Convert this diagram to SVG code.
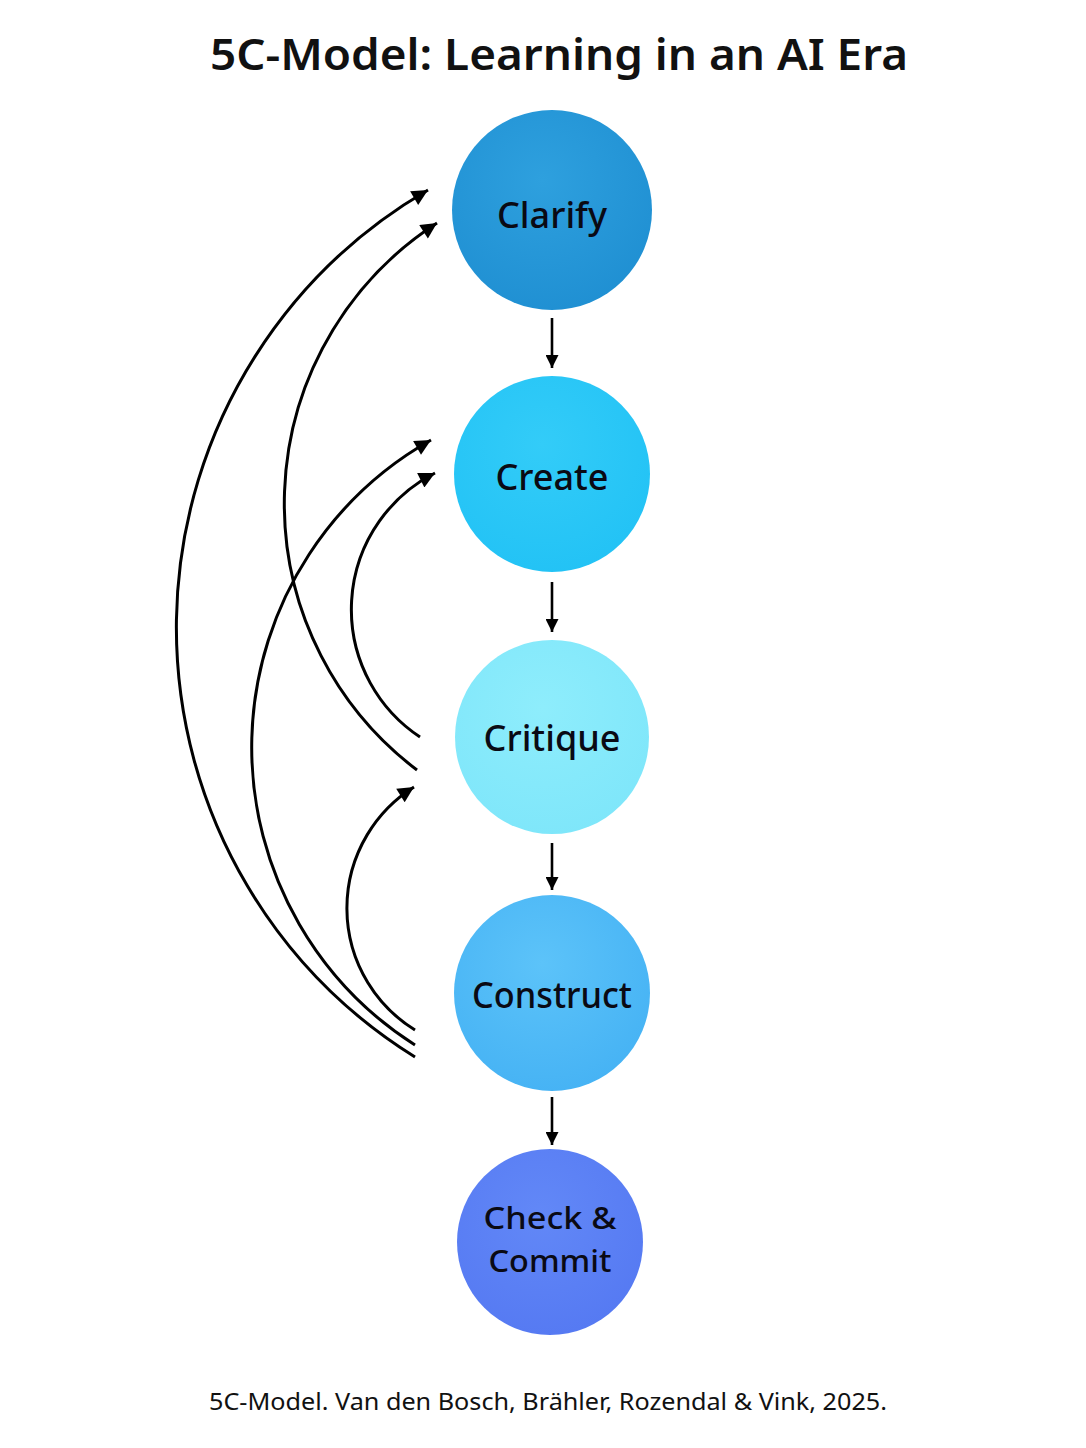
<svg xmlns="http://www.w3.org/2000/svg" width="1086" height="1448" viewBox="0 0 1086 1448">
<style>
.title{font-family:"Noto Sans","Liberation Sans",sans-serif;font-size:44px;font-weight:600;fill:#111;text-anchor:middle}
.lbl{font-family:"Noto Sans","Liberation Sans",sans-serif;font-size:36px;font-weight:500;fill:#0a0a14;text-anchor:middle}
.cap{font-family:"Noto Sans","Liberation Sans",sans-serif;font-size:24px;fill:#111;text-anchor:middle}
.fb{fill:none;stroke:#000;stroke-width:3}
.dn{fill:none;stroke:#000;stroke-width:2.6}
</style>
<defs>
<marker id="ah" viewBox="0 0 10 10" refX="10" refY="5" markerUnits="userSpaceOnUse" markerWidth="20" markerHeight="16" orient="auto"><path d="M0,0 L10,5 L0,10 z" fill="#000"/></marker>
<marker id="ahs" viewBox="0 0 10 10" refX="10" refY="5" markerUnits="userSpaceOnUse" markerWidth="14" markerHeight="13" orient="auto"><path d="M0,0 L10,5 L0,10 z" fill="#000"/></marker>
<radialGradient id="g1" cx="0.45" cy="0.35" r="0.7"><stop offset="0" stop-color="#2ea0de"/><stop offset="1" stop-color="#1f8fd2"/></radialGradient>
<radialGradient id="g2" cx="0.45" cy="0.35" r="0.7"><stop offset="0" stop-color="#33ccf8"/><stop offset="1" stop-color="#22c2f5"/></radialGradient>
<radialGradient id="g3" cx="0.45" cy="0.35" r="0.7"><stop offset="0" stop-color="#8eedfc"/><stop offset="1" stop-color="#7ee6fa"/></radialGradient>
<radialGradient id="g4" cx="0.45" cy="0.35" r="0.7"><stop offset="0" stop-color="#5cc3f9"/><stop offset="1" stop-color="#45b2f4"/></radialGradient>
<radialGradient id="g5" cx="0.45" cy="0.35" r="0.7"><stop offset="0" stop-color="#6288f7"/><stop offset="1" stop-color="#5579f2"/></radialGradient>
</defs>
<rect width="1086" height="1448" fill="#fff"/>
<text class="title" x="559" y="70" textLength="698" lengthAdjust="spacingAndGlyphs">5C-Model: Learning in an AI Era</text>
<g id="connectors">
<path class="dn" d="M552,318 L552,368" marker-end="url(#ahs)"/>
<path class="dn" d="M552,582 L552,632" marker-end="url(#ahs)"/>
<path class="dn" d="M552,843 L552,890" marker-end="url(#ahs)"/>
<path class="dn" d="M552,1097 L552,1145" marker-end="url(#ahs)"/>
<path class="fb" d="M415,1057 A506,506 0 0 1 428,190" marker-end="url(#ah)"/>
<path class="fb" d="M417,770 A334,334 0 0 1 437,223" marker-end="url(#ah)"/>
<path class="fb" d="M415,1045 A353,353 0 0 1 431,440" marker-end="url(#ah)"/>
<path class="fb" d="M420,737 A153,153 0 0 1 435,473" marker-end="url(#ah)"/>
<path class="fb" d="M415,1030 A143,143 0 0 1 414,787" marker-end="url(#ah)"/>
</g>
<g id="clarify"><circle cx="552" cy="210" r="100" fill="url(#g1)"/><text class="lbl" x="552" y="228">Clarify</text></g>
<g id="create"><circle cx="552" cy="474" r="98" fill="url(#g2)"/><text class="lbl" x="552" y="490">Create</text></g>
<g id="critique"><circle cx="552" cy="737" r="97" fill="url(#g3)"/><text class="lbl" x="552" y="751">Critique</text></g>
<g id="construct"><circle cx="552" cy="993" r="98" fill="url(#g4)"/><text class="lbl" x="552" y="1008" textLength="160" lengthAdjust="spacingAndGlyphs">Construct</text></g>
<g id="check"><circle cx="550" cy="1242" r="93" fill="url(#g5)"/><text class="lbl" x="550" y="1229" style="font-size:31px" textLength="133" lengthAdjust="spacingAndGlyphs">Check &amp;</text><text class="lbl" x="550" y="1272" style="font-size:31px" textLength="123" lengthAdjust="spacingAndGlyphs">Commit</text></g>
<text class="cap" x="548" y="1410" textLength="678" lengthAdjust="spacingAndGlyphs">5C-Model. Van den Bosch, Brähler, Rozendal &amp; Vink, 2025.</text>
</svg>
